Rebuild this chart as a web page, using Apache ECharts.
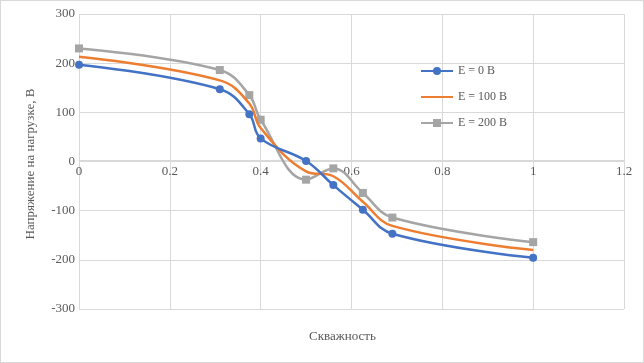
<!DOCTYPE html>
<html><head><meta charset="utf-8">
<script src="https://cdn.jsdelivr.net/npm/echarts@6/dist/echarts.min.js"></script>
<style>html,body{margin:0;padding:0;background:#fff}#c{width:644px;height:363px;box-sizing:border-box;border:1px solid #d9d9d9}</style>
</head><body><div id="c"></div>
<script>
const xs = [0, 0.31, 0.375, 0.4, 0.5, 0.56, 0.625, 0.69, 1];
const e0 = [197, 147, 96, 47, 1, -48, -98, -147, -196];
const e100 = [213, 165, 118, 68, -20, -30, -82, -131, -180];
const e200 = [230, 186, 135, 85, -37, -14, -64, -114, -164];
const names = ['E = 0 В', 'E = 100 В', 'E = 200 В'];
const font = 'Liberation Serif';
const pair = a => xs.map((x, i) => [x, a[i]]);
const chart = echarts.init(document.getElementById('c'));
chart.setOption({
  animation: false,
  grid: {left: 78, right: 19, top: 13, bottom: 53},
  xAxis: [{type: 'value', min: 0, max: 1.2, interval: 0.2,
    axisLine: {show: false}, axisTick: {show: false}, axisLabel: {show: false},
    splitLine: {lineStyle: {color: '#d9d9d9'}}},
    {type: 'value', min: 0, max: 1.2, interval: 0.2, position: 'bottom', offset: -148.5,
    axisLine: {onZero: false, lineStyle: {color: '#d9d9d9'}}, axisTick: {show: false},
    axisLabel: {color: '#595959', fontFamily: font, fontSize: 13, margin: 5},
    splitLine: {show: false}}],
  yAxis: {type: 'value', min: -300, max: 300, interval: 100,
    axisLine: {show: false}, axisTick: {show: false},
    axisLabel: {color: '#595959', fontFamily: font, fontSize: 13, margin: 4},
    splitLine: {lineStyle: {color: '#d9d9d9'}}},
  legend: {orient: 'vertical', left: 414, top: 58, itemGap: 12, itemWidth: 32, itemHeight: 10,
    textStyle: {color: '#595959', fontFamily: font, fontSize: 12, height: 14, lineHeight: 14},
    data: [names[0], {name: names[1], itemStyle: {opacity: 0}}, names[2]]},
  graphic: [
    {type: 'text', left: 308, top: 329, style: {text: 'Скважность', fill: '#595959', font: '13px "Liberation Serif"'}},
    {type: 'text', x: 30, y: 163, rotation: Math.PI/2, style: {text: 'Напряжение на нагрузке, В', fill: '#595959', font: '13px "Liberation Serif"', align: 'center', verticalAlign: 'middle'}}
  ],
  series: [
    {name: names[0], type: 'line', data: pair(e0), smooth: 0.4, symbol: 'circle', symbolSize: 8,
      lineStyle: {width: 2.5, color: '#4472c4'}, itemStyle: {color: '#4472c4'}, z: 4},
    {name: names[1], type: 'line', data: pair(e100), smooth: 0.4, symbol: 'none', showSymbol: false,
      lineStyle: {width: 2.5, color: '#ed7d31'}, itemStyle: {color: '#ed7d31'}, z: 3},
    {name: names[2], type: 'line', data: pair(e200), smooth: 0.4, symbol: 'rect', symbolSize: 8,
      lineStyle: {width: 2.5, color: '#a5a5a5'}, itemStyle: {color: '#a5a5a5'}, z: 2}
  ]
});
</script></body></html>
